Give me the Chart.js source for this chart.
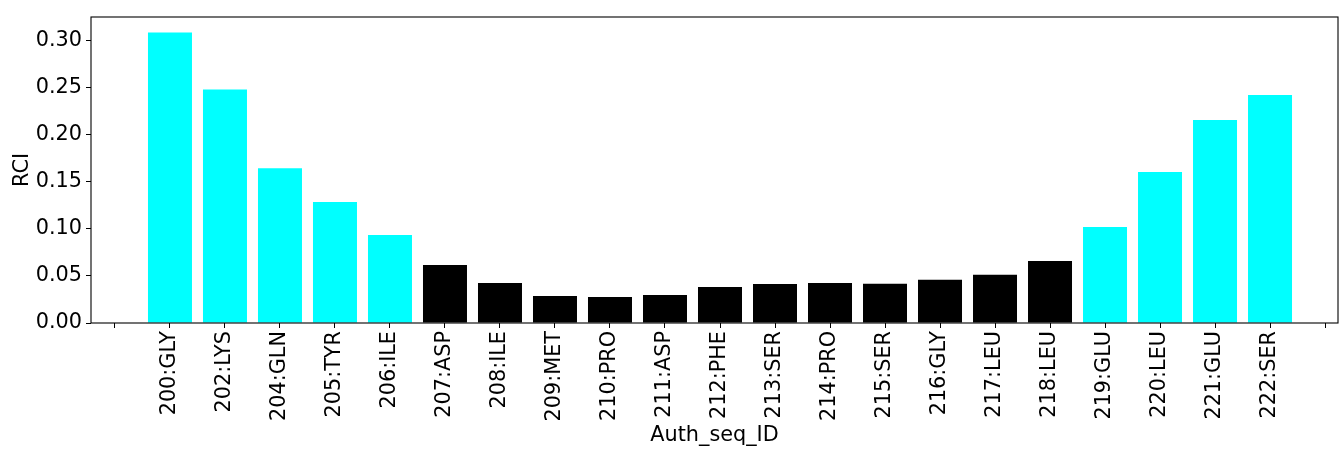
<!DOCTYPE html>
<html>
<head>
<meta charset="utf-8">
<script src="https://cdn.jsdelivr.net/npm/chart.js@4"></script>
<style>
  html, body { margin: 0; padding: 0; background: #fff; }
  #wrap { width: 1339px; height: 450px; }
</style>
</head>
<body>
<div id="wrap"><canvas id="c" width="1339" height="450"></canvas></div>
<script>
const categories = ["200:GLY","202:LYS","204:GLN","205:TYR","206:ILE","207:ASP","208:ILE","209:MET","210:PRO","211:ASP","212:PHE","213:SER","214:PRO","215:SER","216:GLY","217:LEU","218:LEU","219:GLU","220:LEU","221:GLU","222:SER"];
const rciValues = [0.309,0.2485,0.1647,0.1286,0.0936,0.0617,0.0426,0.0287,0.0277,0.0298,0.0383,0.0415,0.0426,0.0417,0.046,0.0512,0.066,0.102,0.1606,0.216,0.2426];
const yTicks = [0.00,0.05,0.10,0.15,0.20,0.25,0.30];

const CYAN = '#00ffff', BLACK = '#000000';
const FONT = "'DejaVu Sans', sans-serif";
const FS = 20.8;

const points = categories.map((c, i) => ({ x: i, y: rciValues[i] }));
const colors = rciValues.map(v => v > 0.08 ? CYAN : BLACK);

const framePlugin = {
  id: 'frame',
  afterDatasetsDraw(chart) {
    const { ctx, chartArea: a } = chart;
    ctx.save();
    ctx.strokeStyle = '#000';
    ctx.lineWidth = 1.1;
    ctx.strokeRect(a.left, a.top, a.right - a.left, a.bottom - a.top);
    ctx.restore();
  }
};

new Chart(document.getElementById('c'), {
  type: 'bar',
  data: {
    datasets: [{
      data: points,
      backgroundColor: colors,
      borderWidth: 0,
      barPercentage: 0.8,
      categoryPercentage: 1.0
    }]
  },
  options: {
    responsive: false,
    animation: false,
    devicePixelRatio: 1,
    layout: { padding: { top: 17, right: 1, left: 0, bottom: 0 } },
    plugins: { legend: { display: false }, tooltip: { enabled: false } },
    scales: {
      x: {
        type: 'linear',
        offset: false,
        min: -1.436,
        max: 21.236,
        afterFit(s) { s.height = 127; s.paddingLeft = 0; s.paddingRight = 0; },
        grid: { drawOnChartArea: false, drawTicks: true, tickLength: 5, color: '#000', tickWidth: 1, offset: false },
        border: { display: false },
        ticks: {
          stepSize: 1,
          includeBounds: false,
          autoSkip: false,
          maxRotation: 90,
          minRotation: 90,
          padding: 3,
          color: '#000',
          font: { family: FONT, size: FS },
          callback: (v) => (Number.isInteger(v) && v >= 0 && v < categories.length) ? categories[v] : ''
        },
        title: {
          display: true,
          text: 'Auth_seq_ID',
          color: '#000',
          font: { family: FONT, size: FS },
          padding: { top: 0, bottom: 2 }
        }
      },
      y: {
        min: 0,
        max: 0.3255,
        afterFit(s) { s.width = 91; s.paddingTop = 0; s.paddingBottom = 0; },
        afterBuildTicks(s) { s.ticks = yTicks.map(v => ({ value: v })); },
        grid: { drawOnChartArea: false, drawTicks: true, tickLength: 5, color: '#000', tickWidth: 1 },
        border: { display: false },
        ticks: {
          padding: 4,
          color: '#000',
          font: { family: FONT, size: FS },
          callback: (v) => Number(v).toFixed(2)
        },
        title: {
          display: true,
          text: 'RCI',
          color: '#000',
          font: { family: FONT, size: FS },
          padding: { top: 10, bottom: 10 }
        }
      }
    }
  },
  plugins: [framePlugin]
});
</script>
</body>
</html>
